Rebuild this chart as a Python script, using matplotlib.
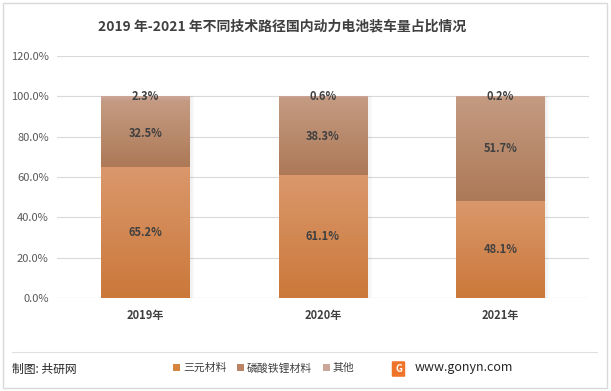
import numpy as np
import matplotlib
matplotlib.use('Agg')
import matplotlib.pyplot as plt
from matplotlib.patches import Rectangle, Patch, FancyBboxPatch
from matplotlib.colors import LinearSegmentedColormap

plt.rcParams['font.family'] = ['Noto Sans CJK SC', 'DejaVu Sans']

# data
years = ['2019年', '2020年', '2021年']
series = ['三元材料', '磷酸铁锂材料', '其他']
ncm = [65.2, 61.1, 48.1]
lfp = [32.5, 38.3, 51.7]
other = [2.3, 0.6, 0.2]
yticks = [0, 20, 40, 60, 80, 100, 120]

# gradient colours (bottom, top) for each series
grads = [('#CB783A', '#DA986C'), ('#AD7957', '#C49B82'), ('#C49A86', '#CDA898')]
legend_colors = ['#D7843F', '#B98464', '#CBA79A']

fig = plt.figure(figsize=(6.11, 3.91), dpi=100)
fig.patches.append(Rectangle((3/611, 3/391), 604/611, 385/391, transform=fig.transFigure,
                             fill=False, edgecolor='#D9D9D9', lw=1))

ax = fig.add_axes([57/611, 1-298/391, 532/611, 242/391])
x = np.arange(len(years))
w = 0.5
grad = np.linspace(0, 1, 256).reshape(-1, 1)

bottom = np.zeros(len(years))
for vals, (c0, c1) in zip([ncm, lfp, other], grads):
    cmap = LinearSegmentedColormap.from_list('g', [c0, c1])
    bars = ax.bar(x, vals, w, bottom=bottom, color='none', edgecolor='none', zorder=3)
    for b in bars:
        bx, by = b.get_x(), b.get_y()
        bw, bh = b.get_width(), b.get_height()
        im = ax.imshow(grad, cmap=cmap, origin='lower', aspect='auto',
                       extent=[bx, bx + bw, by, by + bh], zorder=3)
        im.set_clip_path(b)
    bottom = bottom + np.array(vals)

# soft shadow on right of bars
for xi in x:
    for k in range(4):
        ax.add_patch(Rectangle((xi + w/2 + k*0.006, 0), 0.006, 100, color='#000000',
                               alpha=0.06 - k*0.013, lw=0, zorder=2))

# labels
for i in range(len(years)):
    ax.text(x[i], ncm[i]/2, f'{ncm[i]:.1f}%', ha='center', va='center', fontsize=8,
            color='#404040', fontweight='bold', zorder=5)
    ax.text(x[i], ncm[i] + lfp[i]/2, f'{lfp[i]:.1f}%', ha='center', va='center', fontsize=8,
            color='#404040', fontweight='bold', zorder=5)
    ax.text(x[i], 100, f'{other[i]:.1f}%', ha='center', va='center', fontsize=8,
            color='#404040', fontweight='bold', zorder=5)

ax.set_xlim(-0.5, 2.5)
ax.set_ylim(0, 120)
ax.set_yticks(yticks)
ax.set_yticklabels([f'{v:.1f}%' for v in yticks], fontsize=8, color='#595959')
ax.set_xticks(x)
ax.set_xticklabels(years, fontsize=8, color='#404040', fontweight='bold')
ax.tick_params(length=0, pad=6)
ax.tick_params(axis='x', pad=8)
ax.grid(axis='y', color='#D9D9D9', lw=0.8, zorder=0)
for s in ax.spines.values():
    s.set_visible(False)
ax.axhline(0, color='#D9D9D9', lw=0.8, zorder=1)

fig.text(282/611, 1-26/391, '2019 年-2021 年不同技术路径国内动力电池装车量占比情况',
         ha='center', va='center', fontsize=10, fontweight='bold', color='#404040')

# footer
fig.add_artist(plt.Line2D([12/611, 597/611], [1-352/391, 1-352/391], color='#E0E0E0', lw=0.8))
fig.text(12/611, 1-369/391, '制图: 共研网', ha='left', va='center', fontsize=8.5, color='#262626')
handles = [Patch(facecolor=c, edgecolor='none', label=s) for c, s in zip(legend_colors, series)]
fig.legend(handles=handles, loc='center', bbox_to_anchor=(264/611, 1-368/391), ncol=3,
           frameon=False, fontsize=7.8, handlelength=0.6, handleheight=0.6,
           handletextpad=0.3, columnspacing=1.0, labelcolor='#404040')
fig.patches.append(FancyBboxPatch((393/611, 1-376/391), 11/611, 14/391,
                                  boxstyle='round,pad=0.002', transform=fig.transFigure,
                                  facecolor='#F0732A', edgecolor='none'))
fig.text(398.5/611, 1-369/391, 'G', ha='center', va='center', fontsize=7, color='white',
         fontweight='bold')
fig.text(415/611, 1-368/391, 'www.gonyn.com', ha='left', va='center', fontsize=9,
         color='#262626')

fig.savefig('out.png', dpi=100)
